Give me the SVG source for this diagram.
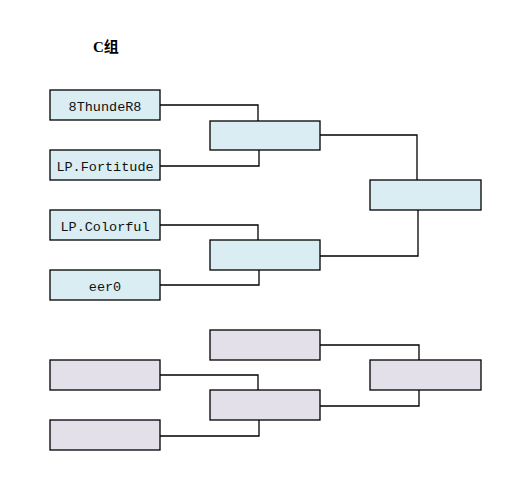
<svg xmlns="http://www.w3.org/2000/svg" width="531" height="481" viewBox="0 0 531 481">
<style>
.b{fill:#daedf3;stroke:#000;stroke-width:1.3}
.p{fill:#e4e0ea;stroke:#000;stroke-width:1.3}
.t{font-family:"Liberation Mono","DejaVu Sans Mono",monospace;font-size:13.5px;fill:#111;text-anchor:middle}
.c{fill:none;stroke:#000;stroke-width:1.3}
.h{font-family:"Liberation Serif","Noto Sans CJK SC",serif;font-size:15px;font-weight:bold;fill:#000}
</style>
<rect width="531" height="481" fill="#fff"/>
<text class="h" x="93" y="52">C组</text>
<g id="connectors">
<path class="c" d="M160 105H258V121M160 166H259V150M160 225H258V240M160 285H259V270M320 135H417V180M320 256H418V210M160 375H258V390M160 436H259V420M320 345H419V360M320 406H419V390"/>
</g>
<g id="n1"><rect class="b" x="50" y="90" width="110" height="30"/><text class="t" x="105" y="111">8ThundeR8</text></g>
<g id="n2"><rect class="b" x="50" y="150" width="110" height="30"/><text class="t" x="105" y="171">LP.Fortitude</text></g>
<g id="n3"><rect class="b" x="50" y="210" width="110" height="30"/><text class="t" x="105" y="231">LP.Colorful</text></g>
<g id="n4"><rect class="b" x="50" y="270" width="110" height="30"/><text class="t" x="105" y="291">eer0</text></g>
<g id="n5"><rect class="b" x="210" y="121" width="110" height="29"/></g>
<g id="n6"><rect class="b" x="210" y="240" width="110" height="30"/></g>
<g id="n7"><rect class="b" x="370" y="180" width="111" height="30"/></g>
<g id="n8"><rect class="p" x="210" y="330" width="110" height="30"/></g>
<g id="n9"><rect class="p" x="50" y="360" width="110" height="30"/></g>
<g id="n10"><rect class="p" x="210" y="390" width="110" height="30"/></g>
<g id="n11"><rect class="p" x="50" y="420" width="110" height="30"/></g>
<g id="n12"><rect class="p" x="370" y="360" width="111" height="30"/></g>
</svg>
